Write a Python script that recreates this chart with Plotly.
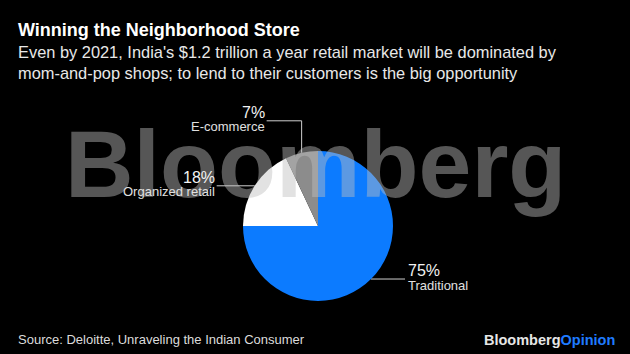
import math
import plotly.graph_objects as go

# ---- data ----
categories = ["Traditional", "Organized retail", "E-commerce"]
shares = [75, 18, 7]
slice_colors = ["#0c7bff", "#ffffff", "#8c8c8c"]

title = "Winning the Neighborhood Store"
subtitle_lines = [
    "Even by 2021, India's $1.2 trillion a year retail market will be dominated by",
    "mom-and-pop shops; to lend to their customers is the big opportunity",
]
source = "Source: Deloitte, Unraveling the Indian Consumer"

W, H = 630, 354
CX, CY, R = 318, 226, 75          # pie centre / radius in pixels
FONT = "Liberation Sans, Arial, sans-serif"
LINE_COL = "#cfcfcf"

fig = go.Figure()

fig.add_trace(go.Pie(
    labels=categories, values=shares, sort=False, direction="clockwise",
    rotation=0, textinfo="none", hoverinfo="label+percent",
    marker=dict(colors=slice_colors, line=dict(width=0)),
    domain=dict(x=[(CX - R) / W, (CX + R) / W], y=[1 - (CY + R) / H, 1 - (CY - R) / H]),
    showlegend=False,
))

# mid-angle edge points computed from the data
total = sum(shares)
edges = []
acc = 0
for v in shares:
    mid = (acc + v / 2) / total * 2 * math.pi
    acc += v
    edges.append((CX + R * math.sin(mid), CY - R * math.cos(mid)))

annotations = []
# watermark
annotations.append(dict(
    x=315, y=164, xref="x", yref="y", text="<b>Bloomberg</b>", showarrow=False,
    xanchor="center", yanchor="middle",
    font=dict(family=FONT, size=95, color="rgba(190,190,190,0.45)"),
))

label_specs = []
# Traditional: horizontal to the right
ex, ey = edges[0]
pts = [(ex, ey), (ex + 34, ey)]
label_specs.append((pts, "left", pts[-1][0] + 2, ey))
# Organized retail: horizontal to the left
ex, ey = edges[1]
pts = [(ex, ey), (ex - 38, ey)]
label_specs.append((pts, "right", pts[-1][0] - 1, ey))
# E-commerce: elbow up then left
ex, ey = edges[2]
pts = [(ex, ey), (ex, ey - 32), (ex - 35, ey - 32)]
label_specs.append((pts, "right", pts[-1][0] - 1, ey - 32))

for (pts, anchor, tx, ty), name, v in zip(label_specs, categories, shares):
    fig.add_trace(go.Scatter(
        x=[p[0] for p in pts], y=[p[1] for p in pts], mode="lines",
        line=dict(color=LINE_COL, width=1), hoverinfo="skip", showlegend=False,
    ))
    annotations.append(dict(
        x=tx, y=ty - 8.5, xref="x", yref="y", text=f"{v}%", showarrow=False,
        xanchor=anchor, yanchor="middle", borderpad=0,
        font=dict(family=FONT, size=16, color="#f2f2f2"),
    ))
    annotations.append(dict(
        x=tx, y=ty + 6, xref="x", yref="y", text=name, showarrow=False,
        xanchor=anchor, yanchor="middle", borderpad=0,
        font=dict(family=FONT, size=13, color="#e0e0e0"),
    ))

annotations.append(dict(
    x=17, y=30, xref="x", yref="y", text=f"<b>{title}</b>", showarrow=False,
    xanchor="left", yanchor="middle", borderpad=0,
    font=dict(family=FONT, size=18, color="#ffffff"),
))
for i, line in enumerate(subtitle_lines):
    annotations.append(dict(
        x=17, y=52 + 21 * i, xref="x", yref="y", text=line, showarrow=False,
        xanchor="left", yanchor="middle", borderpad=0,
        font=dict(family=FONT, size=16.4, color="#e8e8e8"),
    ))
annotations.append(dict(
    x=17, y=339.5, xref="x", yref="y", text=source, showarrow=False,
    xanchor="left", yanchor="middle", borderpad=0,
    font=dict(family=FONT, size=13, color="#dcdcdc"),
))
annotations.append(dict(
    x=616, y=340, xref="x", yref="y",
    text="<b><span style='color:#e6e6e6'>Bloomberg</span><span style='color:#1f7bff'>Opinion</span></b>",
    showarrow=False, xanchor="right", yanchor="middle", borderpad=0,
    font=dict(family=FONT, size=14.5, color="#e6e6e6"),
))

fig.update_layout(
    width=W, height=H, margin=dict(l=0, r=0, t=0, b=0),
    paper_bgcolor="#000000", plot_bgcolor="#000000",
    xaxis=dict(range=[0, W], visible=False, fixedrange=True),
    yaxis=dict(range=[H, 0], visible=False, fixedrange=True),
    annotations=annotations,
)

fig.write_html("out.html")
